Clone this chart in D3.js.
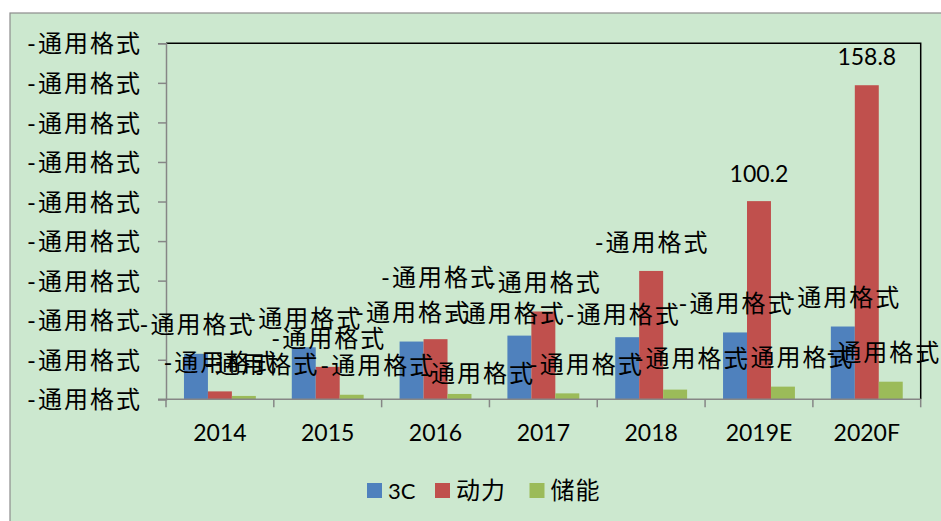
<!DOCTYPE html>
<html>
<head>
<meta charset="utf-8">
<script src="https://cdn.jsdelivr.net/npm/d3@7/dist/d3.min.js"></script>
<style>
  html, body { margin: 0; padding: 0; background: #ffffff; }
  svg { display: block; }
  text { font-family: Lato, "Noto Sans CJK SC", sans-serif; fill: #000; }
</style>
</head>
<body>
<svg id="chart" width="941" height="521"></svg>
<script>
// ---- data ----
const categories = ["2014", "2015", "2016", "2017", "2018", "2019E", "2020F"];
const seriesNames = ["3C", "动力", "储能"];
const values3C   = [23.0, 26.3, 29.2, 32.2, 31.4, 33.8, 36.8];
const valuesPower = [4.0, 16.4, 30.4, 44.4, 64.9, 100.2, 158.8];
const valuesStorage = [1.7, 2.3, 2.7, 3.0, 4.9, 6.4, 8.9];
const labels3C = ["-通用格式", "-通用格式", "-通用格式", "-通用格式", "-通用格式", "-通用格式", "-通用格式"];
const labelsPower = ["-通用格式", "-通用格式", "-通用格式", "-通用格式", "-通用格式", "100.2", "158.8"];
const labelsStorage = ["-通用格式", "-通用格式", "-通用格式", "-通用格式", "-通用格式", "-通用格式", "-通用格式"];
const yTickValues = [0, 20, 40, 60, 80, 100, 120, 140, 160, 180];
const yTickLabels = ["-通用格式", "-通用格式", "-通用格式", "-通用格式", "-通用格式", "-通用格式", "-通用格式", "-通用格式", "-通用格式", "-通用格式"];

// ---- layout / style (label nudges as placed in the original) ----
const colors = ["#4F81BD", "#C0504D", "#9BBB59"];
const labelNudgeX = [
  [0, 0, 0, -12, -5, 0, 0],
  [0, 0, 2, 0, 0, 0, 0],
  [17, 25, 17, 18, 16, 13, -8]
];
const labelNudgeY = [
  [0, 0, 0, 7, 6, 0, 0],
  [0, 0, -33, 0, 0, 2, 0],
  [-3, 0, 8, 0, -2, 0, 0]
];

const seriesValues = [values3C, valuesPower, valuesStorage];
const seriesLabels = [labels3C, labelsPower, labelsStorage];
const isCJK = t => /[^\d.]/.test(t);

const svg = d3.select("#chart");
const plot = { left: 166, top: 43.3, right: 920.7, bottom: 399.3 };

// chart area background + border
svg.append("rect").attr("x", 10).attr("y", 13).attr("width", 960).attr("height", 540)
  .attr("fill", "#CCE8CF").attr("stroke", "#8c8c8c").attr("stroke-width", 1.2);

const x = d3.scaleBand().domain(categories).range([plot.left, plot.right]).paddingInner(0).paddingOuter(0);
const xs = d3.scaleBand().domain(seriesNames).range([0, x.bandwidth()]).paddingInner(0).paddingOuter(0.75);
const y = d3.scaleLinear().domain([0, 180]).range([plot.bottom, plot.top]);

// plot area top & right border (black)
svg.append("path")
  .attr("d", `M${plot.left},${plot.top}H${plot.right}V${plot.bottom}`)
  .attr("fill", "none").attr("stroke", "#000").attr("stroke-width", 1.5);

// bars
seriesNames.forEach((s, si) => {
  svg.append("g").selectAll("rect")
    .data(categories.map((c, i) => ({ c, v: seriesValues[si][i] })))
    .join("rect")
    .attr("x", d => x(d.c) + xs(s))
    .attr("width", xs.bandwidth())
    .attr("y", d => y(d.v))
    .attr("height", d => y(0) - y(d.v))
    .attr("fill", colors[si]);
});

// y axis
const yAxis = d3.axisLeft(y).tickValues(yTickValues).tickSize(8).tickPadding(18)
  .tickFormat((d, i) => yTickLabels[i]);
const gy = svg.append("g").attr("transform", `translate(${plot.left},0)`).call(yAxis);
gy.select(".domain").attr("stroke", "#868686").attr("stroke-width", 1.5);
gy.selectAll(".tick line").attr("stroke", "#868686").attr("stroke-width", 1.5);
gy.selectAll(".tick text").attr("font-size", 24).attr("letter-spacing", 2)
  .attr("font-family", "Lato, 'Noto Sans CJK SC', sans-serif").attr("fill", "#000")
  .attr("x", -24).attr("dy", "0.36em");

// x axis
const xAxis = d3.axisBottom(x).tickSize(0).tickPadding(0);
const gx = svg.append("g").attr("transform", `translate(0,${plot.bottom})`).call(xAxis);
gx.select(".domain").attr("stroke", "#868686").attr("stroke-width", 1.5)
  .attr("d", `M${plot.left - 8},0H${plot.right}`);
gx.selectAll(".tick text").attr("font-size", 23)
  .attr("font-family", "Lato, 'Noto Sans CJK SC', sans-serif").attr("fill", "#000")
  .attr("y", 42).attr("dy", 0);
// category boundary tick marks
const boundaries = categories.map(c => x(c)).concat([plot.right]);
gx.append("g").selectAll("line").data(boundaries).join("line")
  .attr("x1", d => d).attr("x2", d => d).attr("y1", 0).attr("y2", 8)
  .attr("stroke", "#868686").attr("stroke-width", 1.5);

// data labels
seriesNames.forEach((s, si) => {
  svg.append("g").selectAll("text")
    .data(categories.map((c, i) => ({ c, i, v: seriesValues[si][i], t: seriesLabels[si][i] })))
    .join("text")
    .attr("x", d => x(d.c) + xs(s) + xs.bandwidth() / 2 + labelNudgeX[si][d.i] + (isCJK(d.t) ? 1 : 0))
    .attr("y", d => y(d.v) - 29 + labelNudgeY[si][d.i])
    .attr("dy", "0.36em")
    .attr("text-anchor", "middle")
    .attr("font-size", d => isCJK(d.t) ? 24 : 23)
    .attr("letter-spacing", d => isCJK(d.t) ? 2 : 0)
    .text(d => d.t);
});

// legend
const legendItems = [
  { name: seriesNames[0], x: 367 },
  { name: seriesNames[1], x: 435 },
  { name: seriesNames[2], x: 529.5 }
];
const lg = svg.append("g");
legendItems.forEach((d, i) => {
  lg.append("rect").attr("x", d.x).attr("y", 483).attr("width", 15).attr("height", 15).attr("fill", colors[i]);
  lg.append("text").attr("x", d.x + 21).attr("y", 498.5).attr("font-size", i === 0 ? 22 : 24)
    .attr("letter-spacing", i === 0 ? 0 : 1).text(d.name);
});
</script>
</body>
</html>
